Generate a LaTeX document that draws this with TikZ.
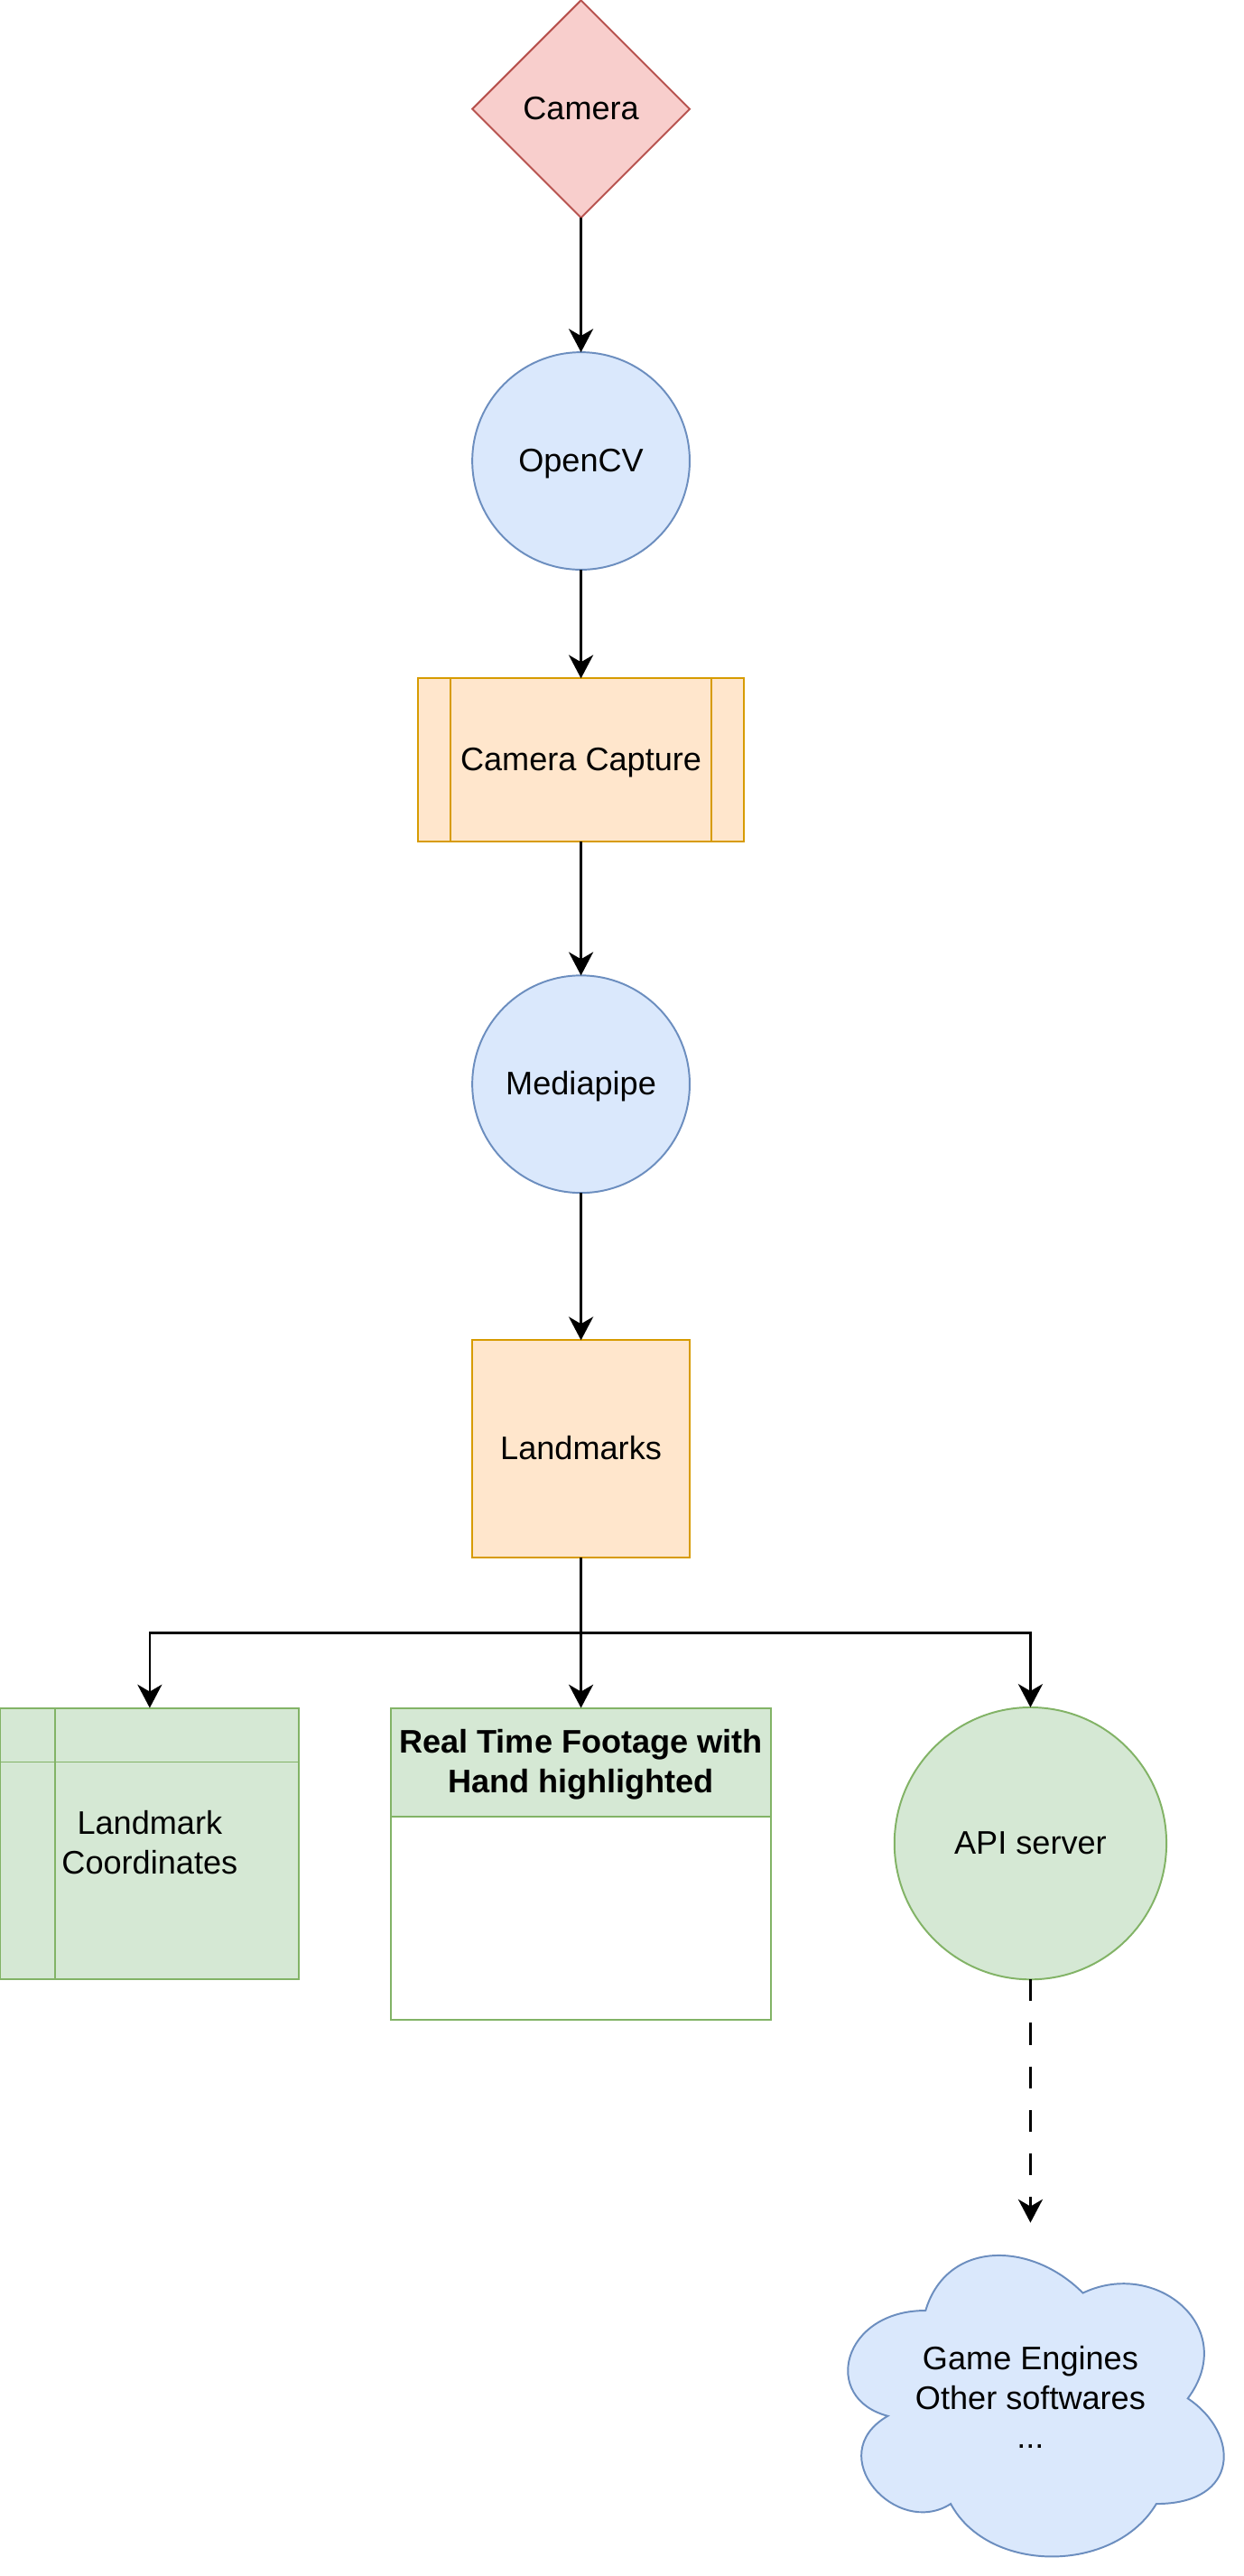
\documentclass[tikz,border=0pt]{standalone}
\usepackage{fontspec}
\setmainfont{Liberation Sans}
\usetikzlibrary{shapes.geometric,arrows.meta,backgrounds}
\definecolor{redF}{HTML}{F8CECC}
\definecolor{redD}{HTML}{B85450}
\definecolor{bluF}{HTML}{DAE8FC}
\definecolor{bluD}{HTML}{6C8EBF}
\definecolor{orgF}{HTML}{FFE6CC}
\definecolor{orgD}{HTML}{D79B00}
\definecolor{grnF}{HTML}{D5E8D4}
\definecolor{grnD}{HTML}{82B366}
\newcommand\lstr{\rule[-3.3pt]{0pt}{14.4pt}}
\begin{document}
\begin{tikzpicture}[x=1pt,y=-1pt,
  every node/.style={inner sep=0pt, outer sep=0pt, align=center, line width=0.65pt,
    font=\fontsize{12pt}{14.4pt}\selectfont},
  boldtext/.style={font=\fontsize{12pt}{14.4pt}\selectfont\bfseries},
  conn/.style={line width=0.9pt, -{Stealth[length=8.6pt,width=9pt,inset=2.6pt]}},
  redshape/.style={draw=redD, fill=redF},
  blushape/.style={draw=bluD, fill=bluF},
  orgshape/.style={draw=orgD, fill=orgF},
  grnshape/.style={draw=grnD, fill=grnF},
  innerline/.style={line width=0.65pt}
]
\useasboundingbox (0,0) rectangle (457.5,947.8);

% main column
\node[diamond, aspect=1, minimum width=80pt, minimum height=80pt, redshape] (cam) at (213.8,40.1) {\lstr Camera};
\node[circle, minimum size=80pt, blushape] (ocv) at (213.8,169.6) {\lstr OpenCV};
\node[rectangle, minimum width=120pt, minimum height=60pt, orgshape] (cc) at (213.8,279.6) {\lstr Camera Capture};
\draw[innerline, orgD] ([xshift=12pt]cc.north west) -- ([xshift=12pt]cc.south west);
\draw[innerline, orgD] ([xshift=-12pt]cc.north east) -- ([xshift=-12pt]cc.south east);
\node[circle, minimum size=80pt, blushape] (mp) at (213.8,398.9) {\lstr Mediapipe};
\node[rectangle, minimum width=80pt, minimum height=80pt, orgshape] (lm) at (213.8,533.1) {\lstr Landmarks};

% bottom row
\node[rectangle, minimum width=110pt, minimum height=99.7pt, grnshape] (lc) at (55.1,678.25) {\lstr Landmark\\\lstr Coordinates};
\draw[innerline, grnD] ([xshift=20.3pt]lc.north west) -- ([xshift=20.3pt]lc.south west);
\draw[innerline, grnD] ([yshift=-19.9pt]lc.north west) -- ([yshift=-19.9pt]lc.north east);

\node[rectangle, minimum width=139.8pt, minimum height=114.7pt, draw=grnD, fill=white] (rt) at (213.8,685.75) {};
\node[rectangle, minimum width=139.8pt, minimum height=39.9pt, grnshape, boldtext, anchor=north] (rth) at (rt.north) {\lstr Real Time Footage with\\\lstr Hand highlighted};

\node[circle, minimum size=100.1pt, grnshape] (api) at (379.2,678.25) {\lstr API server};

\node[minimum width=154.4pt, minimum height=129.3pt] (cl) at (379.2,882.45) {\lstr Game Engines\\\lstr Other softwares\\\lstr ...};
\begin{scope}[on background layer]
  \begin{scope}[shift={(cl.north west)}, x=154.4pt, y=-129.3pt]
    \draw[line width=0.65pt, draw=bluD, fill=bluF]
      (0.25,0.25) .. controls (0.05,0.25) and (0,0.5) .. (0.16,0.55)
      .. controls (0,0.66) and (0.18,0.9) .. (0.31,0.8)
      .. controls (0.4,1) and (0.7,1) .. (0.8,0.8)
      .. controls (1,0.8) and (1,0.6) .. (0.875,0.5)
      .. controls (1,0.3) and (0.8,0.1) .. (0.625,0.2)
      .. controls (0.5,0.05) and (0.3,0.05) .. (0.25,0.25) -- cycle;
  \end{scope}
\end{scope}

% connectors
\draw[conn] (cam.south) -- (ocv.north);
\draw[conn] (ocv.south) -- (cc.north);
\draw[conn] (cc.south) -- (mp.north);
\draw[conn] (mp.south) -- (lm.north);
\coordinate (br) at (213.8,600.8);
\draw[conn] (lm.south) -- (rth.north);
\draw[conn] (br) -| (lc.north);
\draw[conn] (br) -| (api.north);
\draw[conn, dash pattern=on 8pt off 8pt] (api.south) -- (cl.north);
\end{tikzpicture}
\end{document}
